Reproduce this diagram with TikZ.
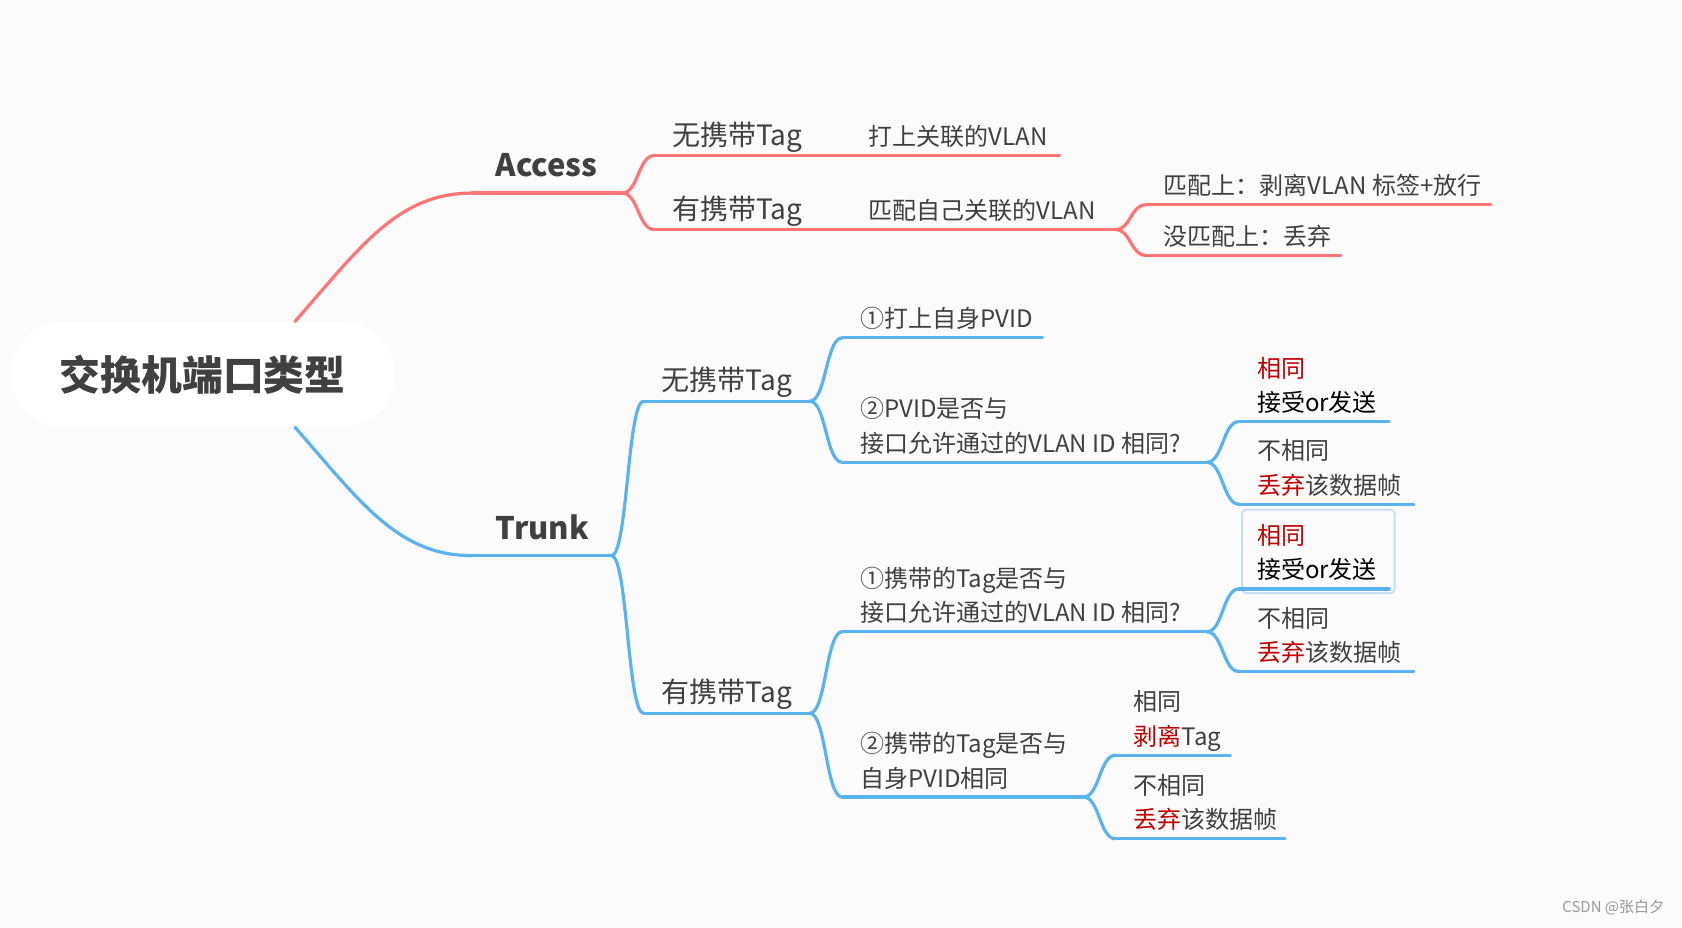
\documentclass[tikz,border=0pt]{standalone}
\usepackage{fontspec}
\newfontfamily\cjk{Noto Sans CJK SC}
\usetikzlibrary{calc}
\definecolor{accred}{HTML}{FF7474}
\definecolor{trkblue}{HTML}{5AB3EE}
\definecolor{txtgray}{HTML}{404040}
\definecolor{keyred}{HTML}{C00000}
\definecolor{selbox}{HTML}{C6DEF6}
\definecolor{bggray}{HTML}{FBFBFB}
\tikzset{
  topic/.style={anchor=south west, inner xsep=9pt, inner ysep=5pt, outer sep=0pt,
    text depth=0pt, align=left, text=txtgray,
    font=\cjk\fontsize{12}{17.2}\selectfont},
  subtopic/.style={topic, inner ysep=5.2pt, font=\cjk\fontsize{14}{18}\selectfont},
  maintopic/.style={topic, inner xsep=11.8pt, inner ysep=8.2pt,
    font=\cjk\bfseries\fontsize{15.5}{20}\selectfont},
  rline/.style={draw=accred, line width=1.6pt, line cap=round},
  bline/.style={draw=trkblue, line width=1.6pt, line cap=round},
}
\newcommand\hl[1]{\textcolor{keyred}{#1}}
\begin{document}
\begin{tikzpicture}[x=0.536pt, y=-0.536pt]
	% Fondo
	\fill[bggray] (0,0) rectangle (1568,865);
	\useasboundingbox (0,0) rectangle (1568,865);
	% Tema central
	\node[fill=white, minimum width=191.9pt, minimum height=52.5pt, rounded corners=26pt,
		text=txtgray, font=\cjk\bfseries\fontsize{20.4}{24}\selectfont] (root) at (189,349) {交换机端口类型};
	% Rama Access
	\node[maintopic] (acc) at (440,180) {Access};
	\draw[rline] (acc.south west) -- ++(140,0) coordinate (acc-e);
	\draw[rline] ($(root.north)+(86,0)$) .. controls +(60,-68) and +(-70,0) .. (acc.south west);
	\node[subtopic] (acc-no) at (610,145) {无携带Tag};
	\draw[rline] (acc-no.south west) -- ++(183,0) coordinate (acc-no-e);
	\node[topic] (acc-no-v) at (793,145) {打上关联的VLAN};
	\draw[rline] (acc-no-v.south west) -- ++(195,0);
	\node[subtopic] (acc-yes) at (610,214) {有携带Tag};
	\draw[rline] (acc-yes.south west) -- ++(183,0) coordinate (acc-yes-e);
	\node[topic] (acc-yes-m) at (793,214) {匹配自己关联的VLAN};
	\draw[rline] (acc-yes-m.south west) -- ++(247,0) coordinate (acc-yes-m-e);
	\node[topic] (acc-hit) at (1068,191) {匹配上：剥离VLAN 标签+放行};
	\draw[rline] (acc-hit.south west) -- ++(322,0);
	\node[topic] (acc-miss) at (1068,238) {没匹配上：丢弃};
	\draw[rline] (acc-miss.south west) -- ++(182,0);
	\draw[rline] (acc-e) .. controls +(15,0) and +(-15,0) .. (acc-no.south west);
	\draw[rline] (acc-e) .. controls +(15,0) and +(-15,0) .. (acc-yes.south west);
	\draw[rline] (acc-yes-m-e) .. controls +(14,0) and +(-14,0) .. (acc-hit.south west);
	\draw[rline] (acc-yes-m-e) .. controls +(14,0) and +(-14,0) .. (acc-miss.south west);
	% Rama Trunk
	\node[maintopic] (trk) at (440,518) {Trunk};
	\draw[bline] (trk.south west) -- ++(130,0) coordinate (trk-e);
	\draw[bline] ($(root.south)+(86,0)$) .. controls +(60,68) and +(-70,0) .. (trk.south west);
	% Trunk: sin etiqueta
	\node[subtopic] (trk-no) at (600,374) {无携带Tag};
	\draw[bline] (trk-no.south west) -- ++(155,0) coordinate (trk-no-e);
	\node[topic] (trk-no-a) at (785,315) {①打上自身PVID};
	\draw[bline] (trk-no-a.south west) -- ++(187,0);
	\node[topic] (trk-no-b) at (785,431) {②PVID是否与\\接口允许通过的VLAN ID 相同?};
	\draw[bline] (trk-no-b.south west) -- ++(340,0) coordinate (trk-no-b-e);
	\node[topic] (trk-no-b-s) at (1155,393) {\hl{相同}\\\textcolor{black}{接受or发送}};
	\draw[bline] (trk-no-b-s.south west) -- ++(140,0);
	\node[topic] (trk-no-b-d) at (1155,470) {不相同\\\hl{丢弃}该数据帧};
	\draw[bline] (trk-no-b-d.south west) -- ++(163,0);
	% Trunk: con etiqueta
	\node[subtopic] (trk-yes) at (600,665) {有携带Tag};
	\draw[bline] (trk-yes.south west) -- ++(155,0) coordinate (trk-yes-e);
	\node[topic] (trk-yes-a) at (785,589) {①携带的Tag是否与\\接口允许通过的VLAN ID 相同?};
	\draw[bline] (trk-yes-a.south west) -- ++(340,0) coordinate (trk-yes-a-e);
	\draw[selbox, line width=1pt, rounded corners=2pt] (1158,475) rectangle (1300,553);
	\node[topic] (trk-yes-a-s) at (1155,549) {\hl{相同}\\\textcolor{black}{接受or发送}};
	\draw[bline] (trk-yes-a-s.south west) -- ++(140,0);
	\node[topic] (trk-yes-a-d) at (1155,626) {不相同\\\hl{丢弃}该数据帧};
	\draw[bline] (trk-yes-a-d.south west) -- ++(163,0);
	\node[topic] (trk-yes-b) at (785,743) {②携带的Tag是否与\\自身PVID相同};
	\draw[bline] (trk-yes-b.south west) -- ++(225,0) coordinate (trk-yes-b-e);
	\node[topic] (trk-yes-b-s) at (1040,704) {相同\\\hl{剥离}Tag};
	\draw[bline] (trk-yes-b-s.south west) -- ++(107,0);
	\node[topic] (trk-yes-b-d) at (1040,782) {不相同\\\hl{丢弃}该数据帧};
	\draw[bline] (trk-yes-b-d.south west) -- ++(158,0);
	% Conectores de Trunk
	\foreach \from/\to in {trk-e/trk-no, trk-e/trk-yes, trk-no-e/trk-no-a, trk-no-e/trk-no-b,
		trk-no-b-e/trk-no-b-s, trk-no-b-e/trk-no-b-d, trk-yes-e/trk-yes-a, trk-yes-e/trk-yes-b,
		trk-yes-a-e/trk-yes-a-s, trk-yes-a-e/trk-yes-a-d, trk-yes-b-e/trk-yes-b-s, trk-yes-b-e/trk-yes-b-d}
		\draw[bline] (\from) .. controls +(15,0) and +(-15,0) .. (\to.south west);
	% Marca de agua
	\node[anchor=south east, text=black!40, font=\cjk\fontsize{7.5}{9}\selectfont] (mark) at (1558,860) {CSDN @张白夕};
\end{tikzpicture}
\end{document}
